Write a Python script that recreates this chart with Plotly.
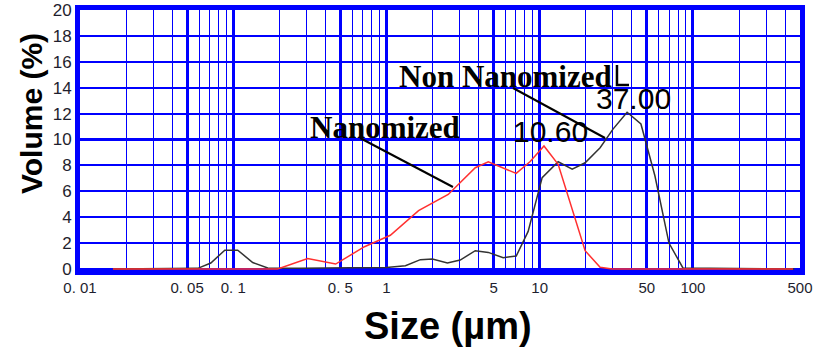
import plotly.graph_objects as go

# ---- data ----
non_nano_size = [0.0164, 0.0587, 0.0714, 0.0881, 0.107, 0.134, 0.168, 0.275, 0.583, 1.0,
                 1.33, 1.665, 1.994, 2.50, 3.03, 3.80, 4.62, 5.78, 7.03, 8.41,
                 10.38, 13.2, 16.3, 19.8, 24.8, 30.1, 37.2, 45.8, 56.5, 69.8, 86.1, 460]
non_nano_vol = [0, 0.05, 0.46, 1.45, 1.45, 0.5, 0.08, 0.05, 0.1, 0.12,
                0.25, 0.72, 0.77, 0.46, 0.69, 1.41, 1.28, 0.87, 1.0, 2.9,
                7.05, 8.28, 7.7, 8.2, 9.36, 10.8, 12.1, 11.2, 7.2, 2.0, 0.08, 0]

nano_size = [0.0164, 0.195, 0.306, 0.466, 0.719, 1.06, 1.62, 2.53, 3.80, 4.62,
             7.03, 8.67, 10.67, 13.2, 19.8, 24.8, 29.7, 450]
nano_vol = [0, 0, 0.8, 0.38, 1.72, 2.6, 4.5, 5.75, 7.82, 8.28,
            7.38, 8.3, 9.5, 8.08, 1.41, 0.13, 0, 0]

x_major = [0.01, 0.05, 0.1, 0.5, 1, 5, 10, 50, 100, 500]
x_major_text = ["0. 01", "0. 05", "0. 1", "0. 5", "1", "5", "10", "50", "100", "500"]
x_minor = [k * 10 ** e for e in (-2, -1, 0, 1, 2) for k in (2, 3, 4, 6, 7, 8, 9)
           if k * 10 ** e < 500]
y_ticks = list(range(0, 21, 2))

BLUE = "#0000ff"
XTICKFONT = dict(family="Liberation Sans, Arial, sans-serif", size=15, color="#1e1e2e")
YTICKFONT = dict(family="Liberation Sans, Arial, sans-serif", size=17, color="#1e1e2e")
SERIF = "Liberation Serif, Times New Roman, serif"
SANS = "Liberation Sans, Arial, sans-serif"

fig = go.Figure()
fig.add_trace(go.Scatter(x=non_nano_size, y=non_nano_vol, mode="lines",
                         line=dict(color="#333333", width=1.5), name="Non Nanomized"))
fig.add_trace(go.Scatter(x=nano_size, y=nano_vol, mode="lines",
                         line=dict(color="#ff3030", width=1.5), name="Nanomized"))

fig.update_layout(
    width=825, height=348,
    margin=dict(l=80, r=25, t=10, b=78),
    paper_bgcolor="white", plot_bgcolor="white",
    showlegend=False,
    xaxis=dict(type="log", range=[-2, 2.699], automargin=False,
               tickmode="array", tickvals=x_major, ticktext=x_major_text,
               tickfont=XTICKFONT, ticks="", showgrid=True, gridcolor=BLUE, gridwidth=2.5,
               minor=dict(tickmode="array", tickvals=x_minor, showgrid=True,
                          gridcolor=BLUE, gridwidth=1.4, ticks=""),
               showline=True, linecolor=BLUE, linewidth=5, mirror=True,
               zeroline=False, layer="below traces"),
    yaxis=dict(range=[-0.08, 20], automargin=False, tickmode="array", tickvals=y_ticks,
               tickfont=YTICKFONT, ticks="", showgrid=True, gridcolor=BLUE, gridwidth=1.6,
               showline=True, linecolor=BLUE, linewidth=5, mirror=True,
               zeroline=False, layer="below traces"),
)

# thicker y=10 gridline
fig.add_shape(type="line", xref="paper", yref="y", x0=0, x1=1, y0=10, y1=10,
              line=dict(color=BLUE, width=3), layer="below")


def label(text, x, y, family, size, angle=0):
    fig.add_annotation(text=text, xref="paper", yref="paper", x=x, y=y,
                       xanchor="center", yanchor="middle", textangle=angle,
                       showarrow=False, font=dict(family=family, size=size, color="black"))


# axis titles
label("<b>Volume (%)</b>", -0.068, 0.60, SANS, 30, angle=-90)
label("<b>Size (µm)</b>", 0.5118, -0.215, SANS, 38)

# curve labels and values
label("<b>Nanomized</b>", 0.4236, 0.548, SERIF, 31)
label("<b>Non Nanomized</b>", 0.591, 0.746, SERIF, 31)
label("10.60", 0.6535, 0.5346, SANS, 30)
label("37.00", 0.7694, 0.6577, SANS, 30)

# leader lines
fig.add_shape(type="line", xref="paper", yref="paper",
              x0=0.6014, y0=0.70, x1=0.7292, y1=0.5077, line=dict(color="black", width=2))
fig.add_shape(type="line", xref="paper", yref="paper",
              x0=0.3889, y0=0.5077, x1=0.518, y1=0.3192, line=dict(color="black", width=2))
fig.add_shape(type="path", xref="paper", yref="paper",
              path="M 0.7458 0.7885 L 0.7458 0.7115 L 0.7625 0.7115",
              line=dict(color="black", width=2.5))

fig.write_html("out.html")
